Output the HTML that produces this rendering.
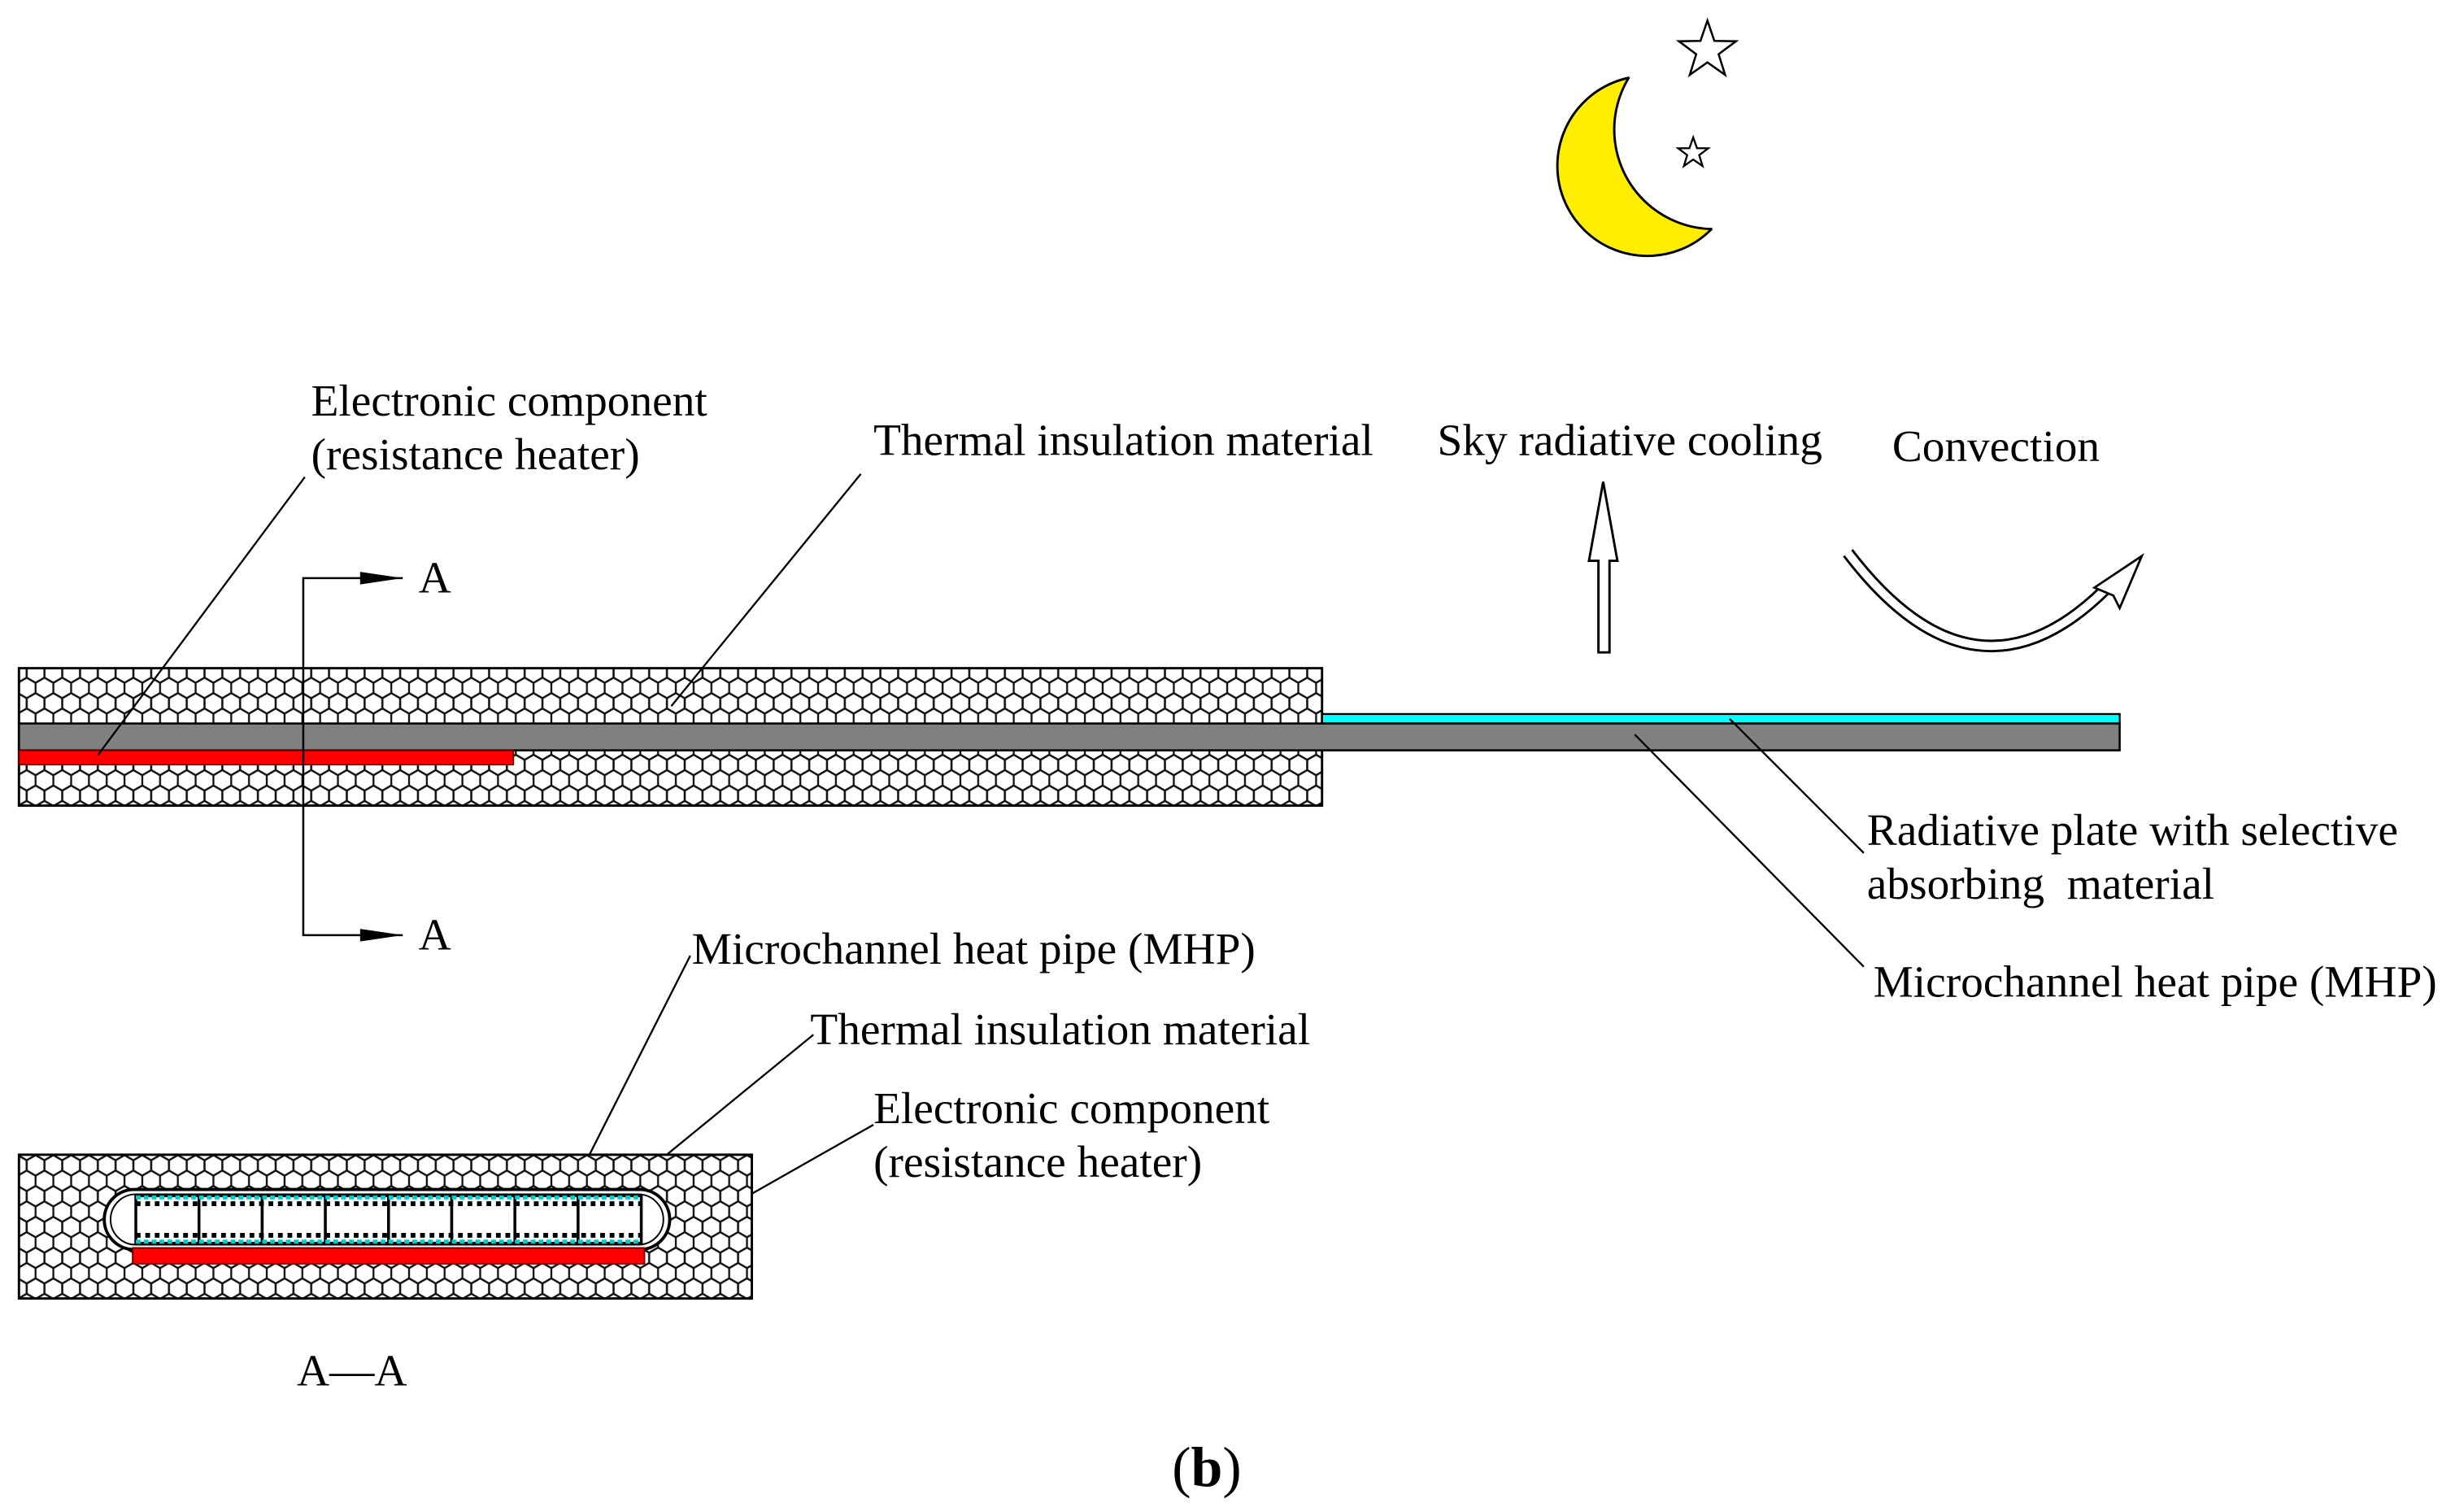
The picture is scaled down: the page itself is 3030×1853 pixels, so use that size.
<!DOCTYPE html>
<html><head><meta charset="utf-8"><style>html,body{margin:0;padding:0;background:#fff}svg{display:block}</style></head>
<body>
<svg width="3030" height="1853" viewBox="0 0 1560 954" preserveAspectRatio="none" xmlns="http://www.w3.org/2000/svg" font-family="Liberation Serif, serif" font-size="28.5">
<defs>
<pattern id="hex" width="11.26" height="19.5" patternUnits="userSpaceOnUse">
<rect width="11.26" height="19.5" fill="#fff"/>
<g fill="none" stroke="#111" stroke-width="1.2">
<polygon points="5.63,0 11.26,3.25 11.26,9.75 5.63,13 0,9.75 0,3.25"/>
<polygon points="0,9.75 5.63,13 5.63,19.5 0,22.75 -5.63,19.5 -5.63,13"/>
<polygon points="11.26,9.75 16.89,13 16.89,19.5 11.26,22.75 5.63,19.5 5.63,13"/>
<polygon points="0,-9.75 5.63,-6.5 5.63,0 0,3.25 -5.63,0 -5.63,-6.5"/>
<polygon points="11.26,-9.75 16.89,-6.5 16.89,0 11.26,3.25 5.63,0 5.63,-6.5"/>
<polygon points="5.63,19.5 11.26,22.75 11.26,29.25 5.63,32.5 0,29.25 0,22.75"/>
</g>
</pattern>
<mask id="moonmask"><rect x="900" y="0" width="300" height="250" fill="#fff"/><circle cx="1085" cy="82" r="63" fill="#000"/></mask>
<clipPath id="moonclip"><circle cx="1043" cy="105" r="57"/></clipPath>
</defs>

<circle cx="1043" cy="105" r="57" fill="#ffee00" stroke="#000" stroke-width="1.5" mask="url(#moonmask)"/>
<circle cx="1085" cy="82" r="63" fill="none" stroke="#000" stroke-width="1.5" clip-path="url(#moonclip)"/>
<polygon points="1081,13 1085.4,25.9 1099.1,26.1 1088.1,34.3 1092.2,47.4 1081,39.5 1069.8,47.4 1073.9,34.3 1062.9,26.1 1076.6,25.9" fill="#fff" stroke="#000" stroke-width="1.3"/>
<polygon points="1072,87 1074.4,93.8 1081.5,93.9 1075.8,98.2 1077.9,105.1 1072,101 1066.1,105.1 1068.2,98.2 1062.5,93.9 1069.6,93.8" fill="#fff" stroke="#000" stroke-width="1.2"/>

<text x="197" y="263">Electronic component</text>
<text x="197" y="297">(resistance heater)</text>
<text x="553" y="288">Thermal insulation material</text>
<text x="910" y="288">Sky radiative cooling</text>
<text x="1198" y="292">Convection</text>
<text x="1182" y="535">Radiative plate with selective</text>
<text x="1182" y="569" xml:space="preserve">absorbing  material</text>
<text x="1186" y="631">Microchannel heat pipe (MHP)</text>
<text x="438" y="610">Microchannel heat pipe (MHP)</text>
<text x="513" y="661">Thermal insulation material</text>
<text x="553" y="711">Electronic component</text>
<text x="553" y="745">(resistance heater)</text>
<text x="188" y="877">A—A</text>
<text x="764" y="941" text-anchor="middle" font-size="36"><tspan>(</tspan><tspan font-weight="bold">b</tspan><tspan>)</tspan></text>

<polygon points="1015,305 1024,355 1019,355 1019,413 1012,413 1012,355 1006,355" fill="#fff" stroke="#000" stroke-width="1.5"/>
<path d="M1170,350 Q1250,455 1333,373" fill="none" stroke="#000" stroke-width="8"/>
<path d="M1170,350 Q1250,455 1333,373" fill="none" stroke="#fff" stroke-width="5"/>
<polygon points="1356,352 1342,385 1338,377 1326,372 1332,368" fill="#fff" stroke="#000" stroke-width="1.4"/>

<rect x="12" y="423" width="825" height="87" fill="url(#hex)" stroke="#000" stroke-width="1.5"/>
<rect x="837" y="452" width="505" height="6" fill="#00ffff" stroke="#000" stroke-width="1.2"/>
<rect x="12" y="458" width="1330" height="17" fill="#808080" stroke="#000" stroke-width="1.3"/>
<rect x="12" y="475" width="313" height="9" fill="#ff0000" stroke="#600" stroke-width="1"/>

<polyline points="255,366 192,366 192,592 255,592" stroke="#000" stroke-width="1.3" fill="none"/>
<polygon points="255,366 228,362 228,370" fill="#000"/>
<polygon points="255,592 228,588 228,596" fill="#000"/>
<text x="265" y="375">A</text>
<text x="265" y="601">A</text>

<g stroke="#000" stroke-width="1.2">
<line x1="193" y1="302" x2="62" y2="478"/>
<line x1="545" y1="300" x2="425" y2="447"/>
<line x1="1180" y1="540" x2="1095" y2="455"/>
<line x1="1180" y1="612" x2="1035" y2="465"/>
<line x1="437" y1="605" x2="360" y2="757"/>
<line x1="515" y1="655" x2="405" y2="745"/>
<line x1="553" y1="712" x2="412" y2="792"/>
</g>

<rect x="12" y="731" width="464" height="91" fill="url(#hex)" stroke="#000" stroke-width="1.5"/>
<rect x="66" y="753" width="358" height="38" rx="19" fill="#fff" stroke="#000" stroke-width="2"/>
<rect x="70" y="756" width="350" height="32" rx="16" fill="none" stroke="#000" stroke-width="1"/>
<g fill="#fff" stroke="#000" stroke-width="1.8">
<rect x="86" y="757" width="40" height="30"/><rect x="126" y="757" width="40" height="30"/>
<rect x="166" y="757" width="40" height="30"/><rect x="206" y="757" width="40" height="30"/>
<rect x="246" y="757" width="40" height="30"/><rect x="286" y="757" width="40" height="30"/>
<rect x="326" y="757" width="40" height="30"/><rect x="366" y="757" width="40" height="30"/>
</g>
<line x1="86" y1="758" x2="406" y2="758" stroke="#00cccc" stroke-width="2.5" stroke-dasharray="3,2"/>
<line x1="86" y1="762" x2="406" y2="762" stroke="#000" stroke-width="3" stroke-dasharray="3,3"/>
<line x1="86" y1="786" x2="406" y2="786" stroke="#00cccc" stroke-width="2.5" stroke-dasharray="3,2"/>
<line x1="86" y1="782" x2="406" y2="782" stroke="#000" stroke-width="3" stroke-dasharray="3,3"/>
<rect x="84" y="790" width="324" height="10" fill="#ff0000" stroke="#600" stroke-width="1"/>
</svg>
</body></html>
